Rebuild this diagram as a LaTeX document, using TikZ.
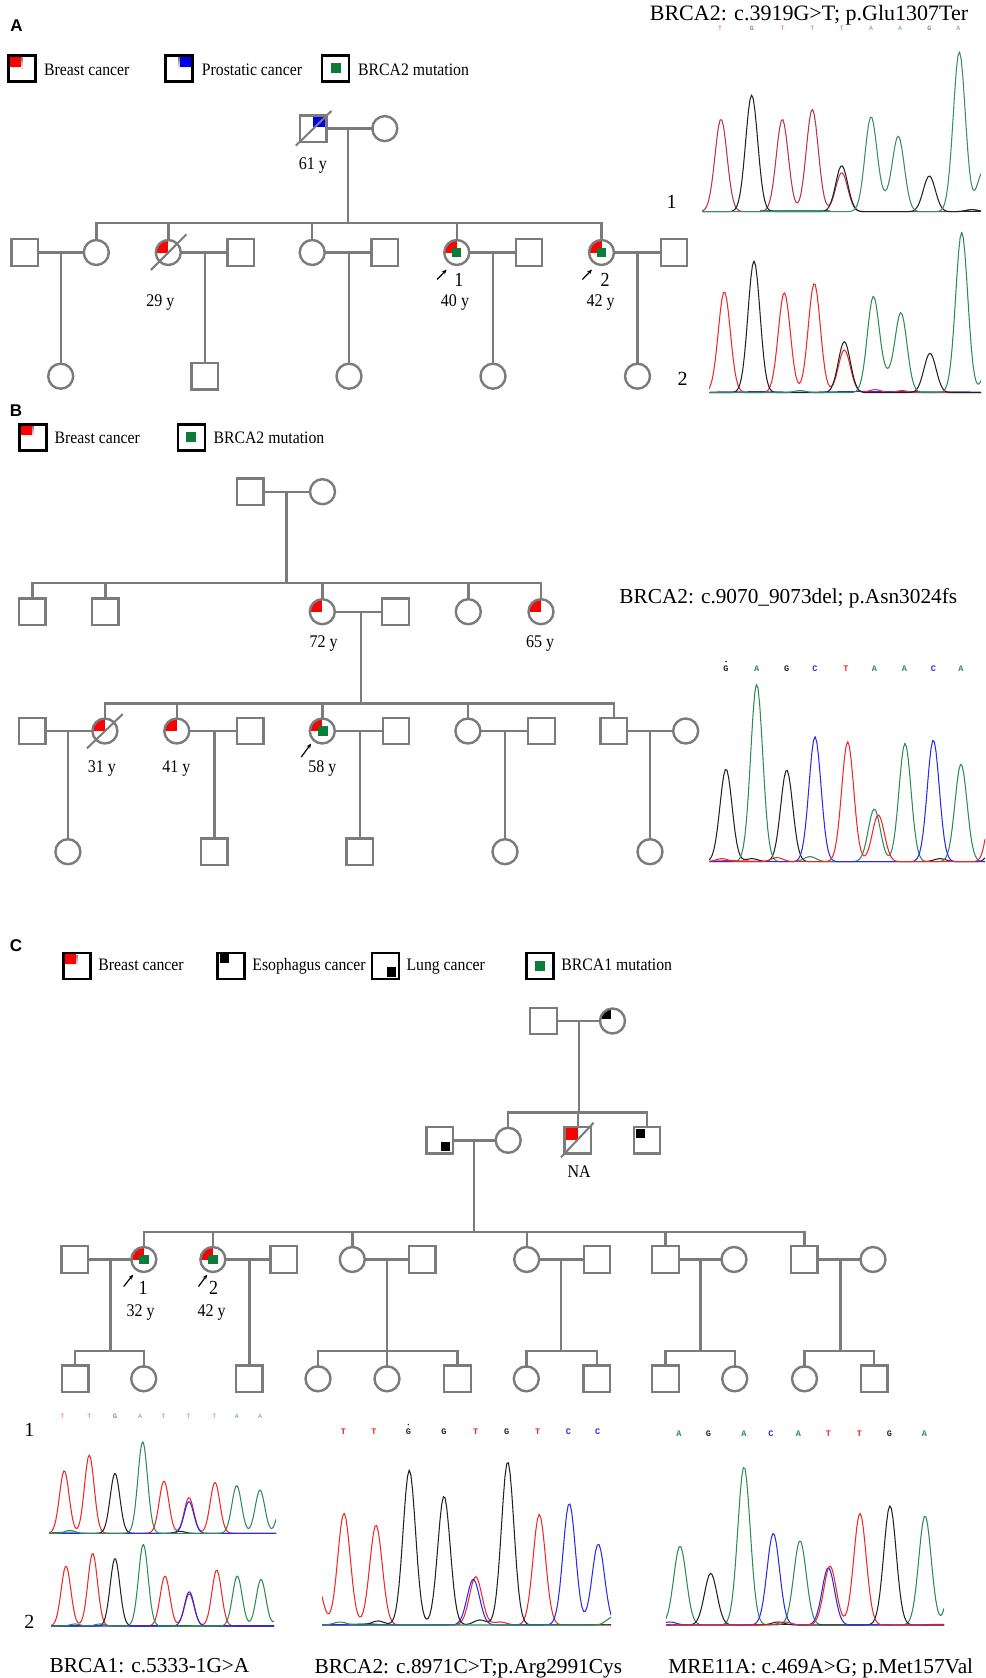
\documentclass[tikz,border=0pt]{standalone}
\usepackage{fontspec}
\setmainfont{Liberation Serif}
\newfontfamily\tallserif{Liberation Serif}[FakeStretch=0.9]
\newfontfamily\panelfont{Liberation Sans}
\newfontfamily\seqfont{Liberation Mono}
\usetikzlibrary{arrows.meta}

\definecolor{pg}{HTML}{7B7B7B}
\definecolor{shade}{HTML}{9A9A9A}
\definecolor{mkred}{HTML}{FF0000}
\definecolor{mkblue}{HTML}{0000F0}
\definecolor{mkgreen}{HTML}{0B7D3B}
\definecolor{trR}{HTML}{F02828}
\definecolor{trK}{HTML}{222222}
\definecolor{trG}{HTML}{2E8B57}
\definecolor{trB}{HTML}{2A2AF0}
\definecolor{trRd}{HTML}{B3364A}
\definecolor{trGd}{HTML}{3A8C6C}

% one Gaussian peak of a trace (height, centre); width \cw, baseline \cbase
\newcommand\gp[2]{#1*exp(-min(((\x-#2)/\cw)^2,9))}
% one coloured trace: colour, domain, sum of peaks
\newcommand\trace[3]{\draw[trace,#1] plot[domain=#2,samples=170] (\x,{\cbase-(#3)});}
% quarter fill of a female symbol
\newcommand\qfem[4]{\begin{scope}\clip (#1,#2) circle[radius=12.5];\fill[#3] (#1,#2) rectangle ++#4;\end{scope}}

\tikzset{
  male/.style={rectangle,draw=pg,line width=2.4pt,minimum size=26.5pt,inner sep=0pt,outer sep=0pt},
  female/.style={circle,draw=pg,line width=2.4pt,minimum size=25pt,inner sep=0pt,outer sep=0pt},
  pline/.style={draw=pg,line width=2.4pt,line cap=rect},
  dec/.style={draw=pg,line width=2pt},
  lbox/.style={rectangle,draw=black,line width=2.6pt,minimum width=27pt,minimum height=26pt,inner sep=0pt,outer sep=0pt},
  ltext/.style={anchor=base west,inner sep=0pt,font=\tallserif\fontsize{17.5}{19}\selectfont},
  age/.style={anchor=base,inner sep=0pt,font=\tallserif\fontsize{17.8}{19}\selectfont},
  pnum/.style={anchor=base,inner sep=0pt,font=\tallserif\fontsize{20}{21}\selectfont},
  cnum/.style={anchor=base,inner sep=0pt,font=\fontsize{20}{22}\selectfont},
  panel/.style={anchor=base,inner sep=0pt,font=\panelfont\bfseries\fontsize{17}{18}\selectfont},
  title/.style={anchor=base,inner sep=0pt,font=\fontsize{22}{24}\selectfont},
  ctitle/.style={anchor=base,inner sep=0pt,font=\fontsize{21.3}{24}\selectfont},
  seqs/.style={inner sep=0pt,font=\seqfont\fontsize{6.5}{7}\selectfont,opacity=0.8},
  seqb/.style={inner sep=0pt,font=\seqfont\bfseries\fontsize{8.5}{9}\selectfont},
  trace/.style={line width=1.05pt,line join=round},
  noise/.style={line width=0.9pt},
  parrow/.style={-{Stealth[length=5pt,width=4pt]},line width=1.2pt,black},
}

\begin{document}
\begin{tikzpicture}[x=1pt,y=-1pt]
\useasboundingbox (0,0) rectangle (985,1678);
\fill[white] (0,0) rectangle (985,1678);

%================ Panel A ================
\node[panel] (pA) at (16.6,31.1) {A};
% legend
\fill[shade] (11.5,58) rectangle (22.6,68.7);
\fill[mkred] (9.5,56) rectangle (20.6,66.7);
\node[lbox] (lgA1) at (22,68.4) {};
\node[ltext] (lgA1t) at (44,75) {Breast cancer};
\fill[shade] (178,58) rectangle (191.8,68.7);
\fill[mkblue] (180,56) rectangle (193.8,66.7);
\node[lbox] (lgA2) at (179.2,68.4) {};
\node[ltext] (lgA2t) at (201.7,75) {Prostatic cancer};
\fill[mkgreen] (330.5,63.4) rectangle (340.5,73.4);
\node[lbox] (lgA3) at (335.5,68.4) {};
\node[ltext] (lgA3t) at (358,75) {BRCA2 mutation};

% generation I
\fill[mkblue] (313.2,115.3) rectangle (326.5,127.2);
\node[male] (a11) at (313.2,128.6) {};
\node[female] (a12) at (384.8,128.6) {};
\draw[dec] (a11) ++(-17.4,17.1) -- ++(35.6,-34.7);
\node[age] (a11l) at (312.8,169.3) {61 y};
\draw[pline] (a11) -- (a12);
\coordinate (a1m) at (348,128.6);
\coordinate (a1s) at (348,222.7);
\draw[pline] (a1m) -- (a1s);

% generation II
\qfem{168.3}{252.5}{mkred}{(-14,-14)}
\qfem{456.8}{252.5}{mkred}{(-14,-14)}
\qfem{601.5}{252.5}{mkred}{(-14,-14)}
\fill[mkgreen] (452.3,247.7) rectangle (461.3,257.3);
\fill[mkgreen] (597,247.7) rectangle (606,257.3);
\node[male] (a21) at (24.7,252.5) {};
\node[female] (a22) at (96.3,252.5) {};
\node[female] (a23) at (168.3,252.5) {};
\node[male] (a24) at (240.7,252.5) {};
\node[female] (a25) at (312.2,252.5) {};
\node[male] (a26) at (384.6,252.5) {};
\node[female] (a27) at (456.8,252.5) {};
\node[male] (a28) at (529,252.5) {};
\node[female] (a29) at (601.5,252.5) {};
\node[male] (a2a) at (674,252.5) {};
\draw[dec] (a23) ++(-17.4,17.5) -- ++(35.6,-35.7);
\draw[pline] (a22 |- a1s) -- (a29 |- a1s);
\foreach \n in {a22,a23,a25,a27,a29} \draw[pline] (\n) -- (\n |- a1s);
\draw[pline] (a21) -- (a22);
\draw[pline] (a23) -- (a24);
\draw[pline] (a25) -- (a26);
\draw[pline] (a27) -- (a28);
\draw[pline] (a29) -- (a2a);
\node[age] (a23l) at (160.4,306) {29 y};
\coordinate (pa1t) at (437.1,279.5);
\coordinate (pa1h) at (446.7,269.5);
\draw[parrow] (pa1t) -- (pa1h);
\node[pnum] (a27n) at (458.8,286.8) {1};
\node[age] (a27l) at (455,306) {40 y};
\coordinate (pa2t) at (582.4,279.5);
\coordinate (pa2h) at (592,269.5);
\draw[parrow] (pa2t) -- (pa2h);
\node[pnum] (a29n) at (605,286.8) {2};
\node[age] (a29l) at (600.6,306) {42 y};

% generation III
\node[female] (a31) at (60.7,376.2) {};
\node[male] (a32) at (204.7,376.2) {};
\node[female] (a33) at (349,376.2) {};
\node[female] (a34) at (493,376.2) {};
\node[female] (a35) at (637.5,376.2) {};
\coordinate (a2m1) at (60.7,252.5);
\coordinate (a2m2) at (204.7,252.5);
\coordinate (a2m3) at (349,252.5);
\coordinate (a2m4) at (493,252.5);
\coordinate (a2m5) at (637.5,252.5);
\draw[pline] (a2m1) -- (a31);
\draw[pline] (a2m2) -- (a32);
\draw[pline] (a2m3) -- (a33);
\draw[pline] (a2m4) -- (a34);
\draw[pline] (a2m5) -- (a35);

% sequencing traces, panel A
\node[title] (tA) at (809,20.7) {BRCA2: c.3919G>T; p.Glu1307Ter};
\foreach \xx/\ll/\cc [count=\i] in {720/T/trR,751.7/G/trK,782.7/T/trR,812.3/T/trR,841.7/T/trR,871/A/trG,900/A/trG,929.3/G/trK,958.3/A/trG}
  \node[seqs,text=\cc] (sqa\i) at (\xx,28.3) {\ll};
\node[cnum] (ca1) at (671.7,208.5) {1};
\node[cnum] (ca2) at (682.7,385.1) {2};
\begin{scope}
  \def\cbase{211.7}\def\cw{8.5}
  \clip (702,35) rectangle (981,214);
  \draw[noise,trB,dash pattern=on 4pt off 2pt] (703,211.4) -- (745,211.4);
  \draw[noise,trRd,dash pattern=on 4pt off 3pt] (745,211.4) -- (830,211.4);
  \draw[noise,trGd] (760,210.6) -- (830,210.6);
  \draw[noise,trK] (860,211.4) -- (900,211.4);
  \draw[noise,trK] (955,211) -- (981,211);
  \trace{trRd}{702:981}{\gp{92.7}{721}+\gp{92.4}{782.3}+\gp{102.4}{812.3}+\gp{39}{841.7}+\gp{2}{972}}
  \trace{trK}{702:981}{\gp{116.7}{751.7}+\gp{46}{841.7}+\gp{35.7}{929.3}+\gp{2}{972}}
  \trace{trGd}{702:981}{\gp{94.4}{871}+\gp{8}{884.6}+\gp{75}{898.3}+\gp{160}{959.3}+\gp{40}{983}}
\end{scope}
\begin{scope}
  \def\cbase{392.7}\def\cw{8.5}
  \clip (709,215) rectangle (981,395);
  \draw[noise,trB] (710,392) -- (760,391.6) -- (800,392.2) -- (860,391.4) -- (981,392);
  \trace{trR}{709:981}{\gp{101}{724.3}+\gp{100}{784.3}+\gp{109.4}{814.3}+\gp{42.7}{844.3}+\gp{3}{875}+\gp{2}{902}}
  \trace{trK}{709:981}{\gp{131.7}{754}+\gp{51}{844.3}+\gp{39.4}{930}}
  \trace{trG}{709:981}{\gp{95.4}{873.3}+\gp{12}{887}+\gp{79.4}{901}+\gp{160.4}{961.7}+\gp{45}{991}+\gp{2}{800}}
\end{scope}

%================ Panel B ================
\node[panel] (pB) at (16,416) {B};
\fill[shade] (22,426) rectangle (34,436.7);
\fill[mkred] (20,424) rectangle (32,434.7);
\node[lbox] (lgB1) at (33,437.2) {};
\node[ltext] (lgB1t) at (54.5,443) {Breast cancer};
\fill[mkgreen] (186.3,432.2) rectangle (196.3,442.2);
\node[lbox] (lgB2) at (191.3,437.2) {};
\node[ltext] (lgB2t) at (213.4,443) {BRCA2 mutation};

% generation I
\node[male] (b11) at (250.4,491.7) {};
\node[female] (b12) at (322.5,491.7) {};
\draw[pline] (b11) -- (b12);
\coordinate (b1m) at (286.6,491.7);
\coordinate (b1s) at (286.6,582.7);
\draw[pline] (b1m) -- (b1s);

% generation II
\qfem{322.3}{611.7}{mkred}{(-14,-14)}
\qfem{541}{611.7}{mkred}{(-14,-14)}
\node[male] (b21) at (32.4,611.7) {};
\node[male] (b22) at (105.4,611.7) {};
\node[female] (b23) at (322.3,611.7) {};
\node[male] (b24) at (395.5,611.7) {};
\node[female] (b25) at (468.3,611.7) {};
\node[female] (b26) at (541,611.7) {};
\draw[pline] (b21 |- b1s) -- (b26 |- b1s);
\foreach \n in {b21,b22,b23,b25,b26} \draw[pline] (\n) -- (\n |- b1s);
\draw[pline] (b23) -- (b24);
\node[age] (b23l) at (323.7,647.7) {72 y};
\node[age] (b26l) at (540.2,647.7) {65 y};
\coordinate (b2m) at (360.7,611.7);
\coordinate (b2s) at (360.7,703.3);
\draw[pline] (b2m) -- (b2s);

% generation III
\qfem{104.9}{731}{mkred}{(-14,-14)}
\qfem{176.8}{731}{mkred}{(-14,-14)}
\qfem{322.3}{731}{mkred}{(-14,-14)}
\fill[mkgreen] (317.8,726.2) rectangle (327.8,735.8);
\node[male] (b31) at (32.4,731) {};
\node[female] (b32) at (104.9,731) {};
\node[female] (b33) at (176.8,731) {};
\node[male] (b34) at (250.4,731) {};
\node[female] (b35) at (322.3,731) {};
\node[male] (b36) at (396,731) {};
\node[female] (b37) at (467.9,731) {};
\node[male] (b38) at (541.5,731) {};
\node[male] (b39) at (613.8,731) {};
\node[female] (b3a) at (685.7,731) {};
\draw[dec] (b32) ++(-17.9,17.3) -- ++(35.8,-34.3);
\draw[pline] (b32 |- b2s) -- (b39 |- b2s);
\foreach \n in {b32,b33,b35,b37,b39} \draw[pline] (\n) -- (\n |- b2s);
\draw[pline] (b31) -- (b32);
\draw[pline] (b33) -- (b34);
\draw[pline] (b35) -- (b36);
\draw[pline] (b37) -- (b38);
\draw[pline] (b39) -- (b3a);
\node[age] (b32l) at (101.8,772.7) {31 y};
\node[age] (b33l) at (176.3,772.7) {41 y};
\node[age] (b35l) at (322.3,772.7) {58 y};
\coordinate (pb1t) at (301.3,757);
\coordinate (pb1h) at (311.2,743.5);
\draw[parrow] (pb1t) -- (pb1h);

% generation IV
\node[female] (b41) at (67.9,851.7) {};
\node[male] (b42) at (214.3,851.7) {};
\node[male] (b43) at (359.8,851.7) {};
\node[female] (b44) at (505,851.7) {};
\node[female] (b45) at (650,851.7) {};
\coordinate (b3m1) at (67.9,731);
\coordinate (b3m2) at (214.3,731);
\coordinate (b3m3) at (359.8,731);
\coordinate (b3m4) at (505,731);
\coordinate (b3m5) at (650,731);
\draw[pline] (b3m1) -- (b41);
\draw[pline] (b3m2) -- (b42);
\draw[pline] (b3m3) -- (b43);
\draw[pline] (b3m4) -- (b44);
\draw[pline] (b3m5) -- (b45);

% sequencing trace, panel B
\node[ctitle] (tB) at (788.3,603.5) {BRCA2: c.9070\_9073del; p.Asn3024fs};
\foreach \xx/\ll/\cc [count=\i] in {726/G/trK,756.7/A/trG,786.7/G/trK,815/C/trB,846/T/trR,874.3/A/trG,904.3/A/trG,933.3/C/trB,961/A/trG}
  \node[seqb,text=\cc] (sqb\i) at (\xx,669) {\ll};
\fill[trK] (726,661.5) circle[radius=0.8];
\begin{scope}
  \def\cbase{861.7}\def\cw{8.5}
  \clip (709,675) rectangle (985,864);
  \draw[noise,trR] (710,861) -- (730,860.5) -- (760,861.2);
  \draw[noise,trR,dash pattern=on 3pt off 2pt] (765,861) -- (805,861);
  \draw[noise,trB,dash pattern=on 1pt off 5pt] (880,861.4) -- (960,861.4);
  \draw[noise,trR,dash pattern=on 4pt off 3pt] (900,861.2) -- (935,861.2);
  \trace{trK}{709:985}{\gp{92.7}{726}+\gp{91.7}{786.7}+\gp{3}{752}+\gp{3}{940}+\gp{40}{998}}
  \trace{trG}{709:985}{\gp{177.7}{756.7}+\gp{5}{810}+\gp{52.7}{874.3}+\gp{118.4}{905}+\gp{97.7}{961}}
  \trace{trB}{709:985}{\gp{125}{815}+\gp{121.7}{933.3}}
  \trace{trR}{709:985}{\gp{3}{722}+\gp{4}{777}+\gp{120}{847.7}+\gp{46.7}{878.3}+\gp{90}{995}}
\end{scope}

%================ Panel C ================
\node[panel] (pC) at (16,951) {C};
\fill[shade] (66.7,955) rectangle (77.9,966);
\fill[mkred] (64.7,953) rectangle (75.9,964);
\node[lbox] (lgC1) at (77,965.8) {};
\node[ltext] (lgC1t) at (98.2,970.8) {Breast cancer};
\fill[black] (219.6,954.3) rectangle (228.6,962.7);
\node[lbox] (lgC2) at (231,965.8) {};
\node[ltext] (lgC2t) at (252.2,970.8) {Esophagus cancer};
\fill[black] (387,967.3) rectangle (396.4,976.7);
\node[lbox] (lgC3) at (385.5,965.8) {};
\node[ltext] (lgC3t) at (406.3,970.8) {Lung cancer};
\fill[mkgreen] (535.2,960.8) rectangle (545.2,970.8);
\node[lbox] (lgC4) at (540.2,965.8) {};
\node[ltext] (lgC4t) at (561.2,970.8) {BRCA1 mutation};

% generation I
\begin{scope}\clip (612.5,1021) circle[radius=12.5];\fill[black] (600,1009) rectangle (610.6,1019);\end{scope}
\node[male] (c11) at (543.5,1021) {};
\node[female] (c12) at (612.5,1021) {};
\draw[pline] (c11) -- (c12);
\coordinate (c1m) at (579,1021);
\coordinate (c1s) at (579,1112.3);
\draw[pline] (c1m) -- (c1s);

% generation II
\fill[black] (441,1141.7) rectangle (450.4,1151);
\fill[mkred] (564.6,1127) rectangle (577.9,1140.3);
\fill[black] (636.3,1129.3) rectangle (645,1137.7);
\node[male] (c21) at (439.7,1140.3) {};
\node[female] (c22) at (508.2,1140.3) {};
\node[male] (c23) at (577.9,1140.3) {};
\node[male] (c24) at (647,1140.3) {};
\draw[dec] (c23) ++(-16.9,17) -- ++(32.6,-34.6);
\node[age] (c23l) at (579.1,1177.6) {NA};
\draw[pline] (c22 |- c1s) -- (c24 |- c1s);
\foreach \n in {c22,c23,c24} \draw[pline] (\n) -- (\n |- c1s);
\draw[pline] (c21) -- (c22);
\coordinate (c2m) at (474.2,1140.3);
\coordinate (c2s) at (474.2,1231.7);
\draw[pline] (c2m) -- (c2s);

% generation III
\qfem{143.8}{1259.5}{mkred}{(-14,-14)}
\qfem{212.9}{1259.5}{mkred}{(-14,-14)}
\fill[mkgreen] (139.3,1254.7) rectangle (148.8,1264.3);
\fill[mkgreen] (208.4,1254.7) rectangle (217.9,1264.3);
\node[male] (c31) at (74.7,1259.5) {};
\node[female] (c32) at (143.8,1259.5) {};
\node[female] (c33) at (212.9,1259.5) {};
\node[male] (c34) at (283.6,1259.5) {};
\node[female] (c35) at (352.3,1259.5) {};
\node[male] (c36) at (422.4,1259.5) {};
\node[female] (c37) at (526.7,1259.5) {};
\node[male] (c38) at (597,1259.5) {};
\node[male] (c39) at (665.5,1259.5) {};
\node[female] (c3a) at (734,1259.5) {};
\node[male] (c3b) at (804.3,1259.5) {};
\node[female] (c3c) at (873,1259.5) {};
\draw[pline] (c32 |- c2s) -- (c3b |- c2s);
\foreach \n in {c32,c33,c35,c37,c39,c3b} \draw[pline] (\n) -- (\n |- c2s);
\draw[pline] (c31) -- (c32);
\draw[pline] (c33) -- (c34);
\draw[pline] (c35) -- (c36);
\draw[pline] (c37) -- (c38);
\draw[pline] (c39) -- (c3a);
\draw[pline] (c3b) -- (c3c);
\coordinate (pc1t) at (123.7,1286.5);
\coordinate (pc1h) at (133.2,1274.5);
\draw[parrow] (pc1t) -- (pc1h);
\node[pnum] (c32n) at (143.2,1294) {1};
\node[age] (c32l) at (140.7,1316) {32 y};
\coordinate (pc2t) at (198.5,1286.5);
\coordinate (pc2h) at (207.3,1274.5);
\draw[parrow] (pc2t) -- (pc2h);
\node[pnum] (c33n) at (213.6,1294) {2};
\node[age] (c33l) at (211.7,1316) {42 y};

% generation IV
\node[male] (c41) at (75.2,1378.8) {};
\node[female] (c42) at (143.7,1378.8) {};
\node[male] (c43) at (249.4,1378.8) {};
\node[female] (c44) at (318,1378.8) {};
\node[female] (c45) at (387,1378.8) {};
\node[male] (c46) at (457.5,1378.8) {};
\node[female] (c47) at (526.3,1378.8) {};
\node[male] (c48) at (596.7,1378.8) {};
\node[male] (c49) at (665.5,1378.8) {};
\node[female] (c4a) at (734.7,1378.8) {};
\node[female] (c4b) at (804.5,1378.8) {};
\node[male] (c4c) at (874.2,1378.8) {};
\coordinate (c3m1) at (110.6,1259.5);
\coordinate (c4s1) at (110.6,1350.7);
\coordinate (c3m2) at (249.4,1259.5);
\coordinate (c3m3) at (387,1259.5);
\coordinate (c4s3) at (387,1350.7);
\coordinate (c3m4) at (561,1259.5);
\coordinate (c4s4) at (561,1350.7);
\coordinate (c3m5) at (700.4,1259.5);
\coordinate (c4s5) at (700.4,1350.7);
\coordinate (c3m6) at (840.5,1259.5);
\coordinate (c4s6) at (840.5,1350.7);
\draw[pline] (c3m1) -- (c4s1);
\draw[pline] (c41 |- c4s1) -- (c42 |- c4s1);
\foreach \n in {c41,c42} \draw[pline] (\n) -- (\n |- c4s1);
\draw[pline] (c3m2) -- (c43);
\draw[pline] (c3m3) -- (c4s3);
\draw[pline] (c44 |- c4s3) -- (c46 |- c4s3);
\foreach \n in {c44,c45,c46} \draw[pline] (\n) -- (\n |- c4s3);
\draw[pline] (c3m4) -- (c4s4);
\draw[pline] (c47 |- c4s4) -- (c48 |- c4s4);
\foreach \n in {c47,c48} \draw[pline] (\n) -- (\n |- c4s4);
\draw[pline] (c3m5) -- (c4s5);
\draw[pline] (c49 |- c4s5) -- (c4a |- c4s5);
\foreach \n in {c49,c4a} \draw[pline] (\n) -- (\n |- c4s5);
\draw[pline] (c3m6) -- (c4s6);
\draw[pline] (c4b |- c4s6) -- (c4c |- c4s6);
\foreach \n in {c4b,c4c} \draw[pline] (\n) -- (\n |- c4s6);

% sequencing traces, panel C
\node[cnum] (cc1) at (29.3,1436.8) {1};
\node[cnum] (cc2) at (29.3,1628.5) {2};
\foreach \xx/\ll/\cc [count=\i] in {62.3/T/trR,89.3/T/trR,115/G/trK,140/A/trG,163.3/T/trR,188.3/T/trR,214.3/T/trR,236.7/A/trG,260/A/trG}
  \node[seqs,text=\cc] (sqc\i) at (\xx,1416.7) {\ll};
\foreach \xx/\ll/\cc [count=\i] in {343.3/T/trR,374/T/trR,408.3/G/trK,444/G/trK,475.7/T/trR,506.7/G/trK,537.7/T/trR,568.3/C/trB,597.7/C/trB}
  \node[seqb,text=\cc] (sqd\i) at (\xx,1431.7) {\ll};
\fill[trK] (408.3,1424.5) circle[radius=0.8];
\foreach \xx/\ll/\cc [count=\i] in {679/A/trG,708.3/G/trK,744/A/trG,771/C/trB,798.3/A/trG,828.3/T/trR,859.3/T/trR,889.3/G/trK,924.3/A/trG}
  \node[seqb,text=\cc] (sqe\i) at (\xx,1433.3) {\ll};

\begin{scope}
  \def\cbase{1533.3}\def\cw{6.8}
  \clip (49,1430) rectangle (276,1536);
  \draw[noise,trG] (52,1532.6) -- (75,1532) -- (80,1533);
  \draw[noise,trB,dash pattern=on 3pt off 2pt] (100,1533) -- (125,1533);
  \draw[noise,trK] (125,1533) -- (175,1533);
  \draw[noise,trB,dash pattern=on 3pt off 3pt] (200,1533) -- (240,1533);
  \draw[noise,trK] (240,1533.2) -- (276,1533.2);
  \trace{trR}{49:276}{\gp{62.7}{64.3}+\gp{78.3}{89.3}+\gp{52.3}{164}+\gp{35.7}{189}+\gp{51}{215}}
  \trace{trK}{49:276}{\gp{60}{115}+\gp{2}{180}}
  \trace{trB}{49:276}{\gp{31.7}{189}}
  \trace{trG}{49:276}{\gp{3}{70}+\gp{91.7}{142.7}+\gp{47.7}{236.7}+\gp{43.3}{260}+\gp{40}{283}}
\end{scope}
\begin{scope}
  \def\cbase{1626}\def\cw{6.8}
  \clip (51,1530) rectangle (274,1629);
  \draw[noise,trG] (52,1625.4) -- (80,1625.4);
  \draw[noise,trB,dash pattern=on 3pt off 3pt] (70,1625.6) -- (135,1625.6);
  \draw[noise,trK] (150,1625.5) -- (190,1625.5);
  \draw[noise,trB,dash pattern=on 3pt off 3pt] (225,1625.6) -- (274,1625.6);
  \trace{trR}{51:274}{\gp{60}{66}+\gp{72.7}{92.7}+\gp{50}{165}+\gp{32}{189.3}+\gp{56}{216.7}}
  \trace{trK}{51:274}{\gp{67.7}{115}}
  \trace{trB}{51:274}{\gp{34.3}{189.3}}
  \trace{trG}{51:274}{\gp{2}{75}+\gp{2}{100}+\gp{81.7}{143.3}+\gp{50}{237.3}+\gp{46.7}{261}+\gp{20}{283}}
\end{scope}
\begin{scope}
  \def\cbase{1625}\def\cw{8.8}
  \clip (322,1440) rectangle (611,1628);
  \draw[noise,trG] (323,1624.5) -- (345,1624.5);
  \draw[noise,trG] (350,1624.2) -- (370,1623.5) -- (380,1624.5);
  \draw[noise,trB] (360,1624.8) -- (400,1624.8);
  \draw[noise,trG] (430,1624.6) -- (460,1624.6);
  \draw[noise,trB] (520,1624.7) -- (560,1624.7);
  \draw[noise,trG,dash pattern=on 3pt off 3pt] (590,1624.6) -- (611,1624.6);
  \trace{trR}{322:611}{\gp{45}{316}+\gp{111.7}{344}+\gp{100}{376}+\gp{48.3}{475.7}+\gp{3}{500}+\gp{110.7}{539.3}}
  \trace{trK}{322:611}{\gp{4}{378}+\gp{155}{409.3}+\gp{129}{444}+\gp{5}{480}+\gp{163.3}{507.7}}
  \trace{trB}{322:611}{\gp{45.7}{473.3}+\gp{121.7}{569.3}+\gp{81}{598.3}}
  \trace{trG}{322:611}{\gp{3}{340}+\gp{8}{613}}
\end{scope}
\begin{scope}
  \def\cbase{1625}\def\cw{8.8}
  \clip (666,1440) rectangle (944,1628);
  \draw[noise,trB,dash pattern=on 3pt off 3pt] (667,1624.6) -- (700,1624.6);
  \draw[noise,trR,dash pattern=on 4pt off 2pt] (745,1624.6) -- (800,1624.6);
  \draw[noise,trK] (755,1624.8) -- (790,1624.8);
  \draw[noise,trB] (870,1624.7) -- (890,1624.7);
  \draw[noise,trR] (925,1624.6) -- (944,1624.2);
  \trace{trG}{666:944}{\gp{79}{680}+\gp{158.3}{744}+\gp{84.3}{800}+\gp{109.3}{925}+\gp{100}{956}}
  \trace{trK}{666:944}{\gp{51.7}{710.7}+\gp{3}{778}+\gp{119.3}{890}}
  \trace{trB}{666:944}{\gp{3}{670}+\gp{91.7}{773.3}+\gp{57.3}{828.3}}
  \trace{trR}{666:944}{\gp{3}{785}+\gp{59}{830}+\gp{111.7}{860}}
\end{scope}

\node[ctitle] (tC1) at (149.5,1672.3) {BRCA1: c.5333-1G>A};
\node[ctitle] (tC2) at (468.3,1673.8) {BRCA2: c.8971C>T;p.Arg2991Cys};
\node[ctitle] (tC3) at (820.8,1673.8) {MRE11A: c.469A>G; p.Met157Val};
\end{tikzpicture}
\end{document}
